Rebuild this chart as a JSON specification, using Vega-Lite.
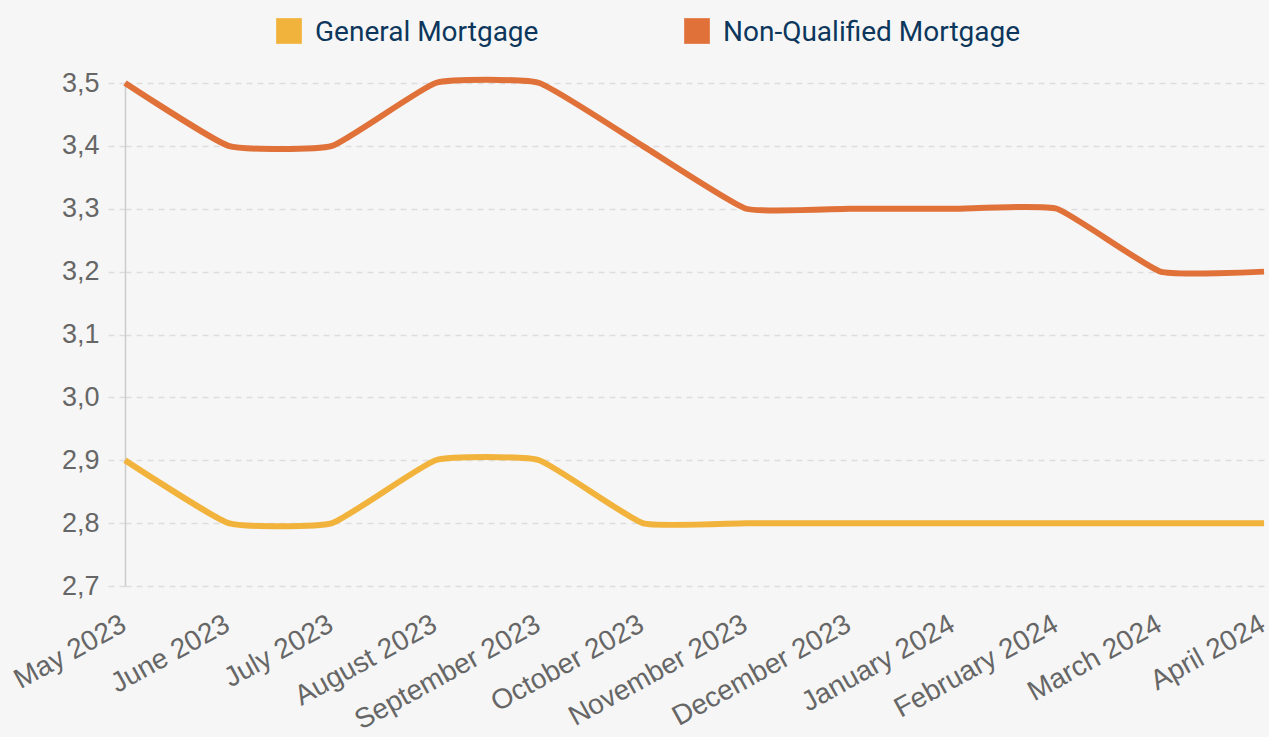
{
  "$schema": "https://vega.github.io/schema/vega-lite/v6.json",
  "autosize": {"type": "none"},
  "width": 1139,
  "height": 503,
  "padding": {"left": 125, "top": 83, "right": 5, "bottom": 151},
  "background": "#f6f6f6",
  "config": {"view": {"stroke": null}},
  "data": {
    "values": [
      {"month": "May 2023", "series": "General Mortgage", "rate": 2.9},
      {"month": "June 2023", "series": "General Mortgage", "rate": 2.8},
      {"month": "July 2023", "series": "General Mortgage", "rate": 2.8},
      {"month": "August 2023", "series": "General Mortgage", "rate": 2.9},
      {"month": "September 2023", "series": "General Mortgage", "rate": 2.9},
      {"month": "October 2023", "series": "General Mortgage", "rate": 2.8},
      {"month": "November 2023", "series": "General Mortgage", "rate": 2.8},
      {"month": "December 2023", "series": "General Mortgage", "rate": 2.8},
      {"month": "January 2024", "series": "General Mortgage", "rate": 2.8},
      {"month": "February 2024", "series": "General Mortgage", "rate": 2.8},
      {"month": "March 2024", "series": "General Mortgage", "rate": 2.8},
      {"month": "April 2024", "series": "General Mortgage", "rate": 2.8},
      {"month": "May 2023", "series": "Non-Qualified Mortgage", "rate": 3.5},
      {"month": "June 2023", "series": "Non-Qualified Mortgage", "rate": 3.4},
      {"month": "July 2023", "series": "Non-Qualified Mortgage", "rate": 3.4},
      {"month": "August 2023", "series": "Non-Qualified Mortgage", "rate": 3.5},
      {"month": "September 2023", "series": "Non-Qualified Mortgage", "rate": 3.5},
      {"month": "October 2023", "series": "Non-Qualified Mortgage", "rate": 3.4},
      {"month": "November 2023", "series": "Non-Qualified Mortgage", "rate": 3.3},
      {"month": "December 2023", "series": "Non-Qualified Mortgage", "rate": 3.3},
      {"month": "January 2024", "series": "Non-Qualified Mortgage", "rate": 3.3},
      {"month": "February 2024", "series": "Non-Qualified Mortgage", "rate": 3.3},
      {"month": "March 2024", "series": "Non-Qualified Mortgage", "rate": 3.2},
      {"month": "April 2024", "series": "Non-Qualified Mortgage", "rate": 3.2}
    ]
  },
  "mark": {"type": "line", "interpolate": "cardinal", "tension": 0.6, "strokeWidth": 6, "strokeCap": "butt"},
  "encoding": {
    "x": {
      "field": "month",
      "type": "ordinal",
      "sort": null,
      "scale": {"type": "point", "padding": 0},
      "axis": {
        "title": null,
        "domain": false,
        "ticks": false,
        "grid": false,
        "labelAngle": -29,
        "labelFont": "Liberation Sans",
        "labelFontSize": 28,
        "labelColor": "#666666",
        "labelPadding": 24,
        "labelOffset": -8,
        "labelLimit": 400,
        "labelOverlap": false
      }
    },
    "y": {
      "field": "rate",
      "type": "quantitative",
      "scale": {"domain": [2.7, 3.5], "nice": false, "zero": false},
      "axis": {
        "title": null,
        "values": [2.7, 2.8, 2.9, 3.0, 3.1, 3.2, 3.3, 3.4, 3.5],
        "labelExpr": "replace(format(datum.value, '.1f'), '.', ',')",
        "domain": true,
        "domainColor": "#cccccc",
        "domainWidth": 1.5,
        "ticks": true,
        "tickSize": 18,
        "tickColor": "#dddddd",
        "tickWidth": 1.5,
        "tickDash": [6, 5],
        "grid": true,
        "gridColor": "#dddddd",
        "gridWidth": 1.5,
        "gridDash": [6, 5],
        "labelFont": "Liberation Sans",
        "labelFontSize": 27,
        "labelColor": "#666666",
        "labelPadding": 8
      }
    },
    "color": {
      "field": "series",
      "type": "nominal",
      "scale": {"domain": ["General Mortgage", "Non-Qualified Mortgage"], "range": ["#f2b33d", "#e07139"]},
      "legend": {
        "title": null,
        "orient": "none",
        "direction": "horizontal",
        "legendX": 150,
        "legendY": -66,
        "symbolType": "square",
        "symbolSize": 660,
        "symbolStrokeWidth": 0,
        "labelFont": "Roboto",
        "labelFontSize": 28,
        "labelColor": "#0c365c",
        "labelOffset": 12,
        "columnPadding": 144,
        "labelLimit": 500,
        "encode": {
          "symbols": {
            "update": {
              "fill": {"scale": "color", "field": "value"},
              "fillOpacity": {"value": 1}
            }
          },
          "labels": {
            "update": {
              "dy": {"value": 2}
            }
          }
        }
      }
    }
  }
}
